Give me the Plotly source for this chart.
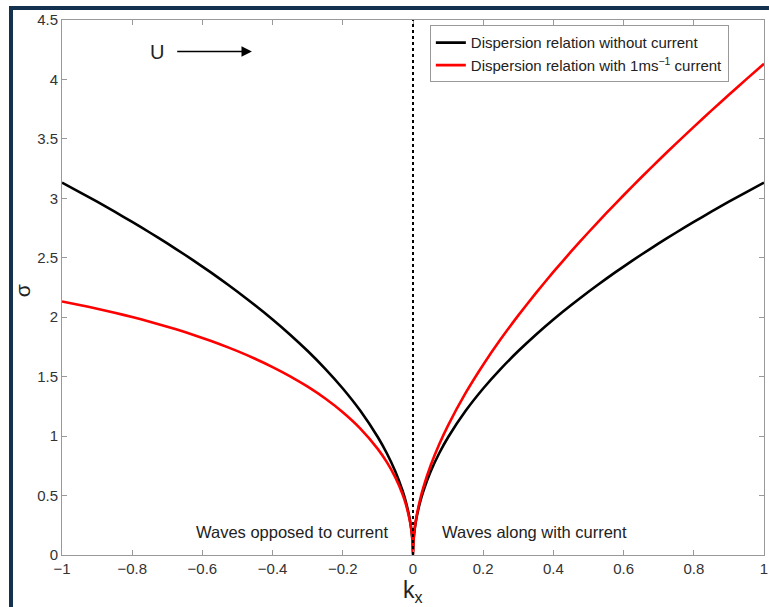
import plotly.graph_objects as go

# wavenumber samples (positive half); full axis built symmetric
k_pos = [0.0, 0.001, 0.0025, 0.005, 0.01, 0.02, 0.03, 0.05, 0.075, 0.1, 0.15, 0.2, 0.25, 0.3,
         0.35, 0.4, 0.45, 0.5, 0.55, 0.6, 0.65, 0.7, 0.75, 0.8, 0.85, 0.9, 0.95, 1.0]
# sigma without current (same on both sides)
sigma0_pos = [0.0, 0.099, 0.1566, 0.2215, 0.3132, 0.4429, 0.5425, 0.7004, 0.8578, 0.9905, 1.2131,
              1.4007, 1.5660, 1.7155, 1.8530, 1.9809, 2.1011, 2.2147, 2.3228, 2.4261, 2.5252,
              2.6205, 2.7125, 2.8014, 2.8877, 2.9714, 3.0528, 3.1321]
# sigma with 1 m/s current, positive kx side
sigmaU_pos = [0.0, 0.100, 0.1591, 0.2265, 0.3232, 0.4629, 0.5725, 0.7504, 0.9328, 1.0905, 1.3631,
              1.6007, 1.8160, 2.0155, 2.2030, 2.3809, 2.5511, 2.7147, 2.8728, 3.0261, 3.1752,
              3.3205, 3.4625, 3.6014, 3.7377, 3.8714, 4.0028, 4.1321]
# sigma with 1 m/s current, negative kx side (listed for |kx| ascending)
sigmaU_neg = [0.0, 0.098, 0.1541, 0.2165, 0.3032, 0.4229, 0.5125, 0.6504, 0.7828, 0.8905, 1.0631,
              1.2007, 1.3160, 1.4155, 1.5030, 1.5809, 1.6511, 1.7147, 1.7728, 1.8261, 1.8752,
              1.9205, 1.9625, 2.0014, 2.0377, 2.0714, 2.1028, 2.1321]

kx = [-k for k in k_pos[::-1]] + k_pos[1:]
sigma0 = sigma0_pos[::-1] + sigma0_pos[1:]
sigmaU = sigmaU_neg[::-1] + sigmaU_pos[1:]

x_ticks = [-1, -0.8, -0.6, -0.4, -0.2, 0, 0.2, 0.4, 0.6, 0.8, 1]
y_ticks = [0, 0.5, 1, 1.5, 2, 2.5, 3, 3.5, 4, 4.5]

FONT = "Liberation Sans, Arial, sans-serif"
TXT = "#222222"

fig = go.Figure()
fig.add_trace(go.Scatter(x=kx, y=sigma0, mode="lines", name="Dispersion relation without current",
                         line=dict(color="black", width=2.6, shape="spline", smoothing=0.5)))
fig.add_trace(go.Scatter(x=kx, y=sigmaU, mode="lines",
                         name="Dispersion relation with 1ms<sup>\u22121</sup> current",
                         line=dict(color="#ff0000", width=2.6, shape="spline", smoothing=0.5)))

axis_common = dict(showline=True, linecolor="#999999", linewidth=1, mirror="allticks",
                   ticks="inside", ticklen=5, tickcolor="#999999", showgrid=False, zeroline=False,
                   automargin=False,
                   tickfont=dict(family=FONT, size=15, color="#333333"))

fig.update_layout(
    width=769, height=607,
    margin=dict(l=62, r=5, t=20, b=52),
    paper_bgcolor="white", plot_bgcolor="white",
    font=dict(family=FONT, color=TXT),
    xaxis=dict(range=[-1, 1], tickvals=x_ticks, **axis_common),
    yaxis=dict(range=[0, 4.5], tickvals=y_ticks, **axis_common),
    legend=dict(x=0.524, y=0.99, xanchor="left", yanchor="top", bgcolor="white",
                bordercolor="#999999", borderwidth=1,
                font=dict(family=FONT, size=15, color=TXT), tracegroupgap=0),
    shapes=[
        dict(type="line", xref="x", yref="y", x0=0, x1=0, y0=0, y1=4.5,
             line=dict(color="black", width=2, dash="dot")),
        dict(type="rect", xref="paper", yref="paper", x0=-0.0755, x1=-0.0698, y0=-0.0972, y1=1.0262,
             fillcolor="#14314f", line=dict(width=0)),
        dict(type="rect", xref="paper", yref="paper", x0=-0.0755, x1=1.0071, y0=1.0187, y1=1.0262,
             fillcolor="#14314f", line=dict(width=0)),
    ],
    annotations=[
        dict(x=0.5, y=-0.068, xref="paper", yref="paper", text="k<sub>x</sub>", showarrow=False,
             xanchor="center", yanchor="middle", font=dict(size=23, family=FONT, color=TXT)),
        dict(x=-0.057, y=0.495, xref="paper", yref="paper", text="σ", showarrow=False, textangle=-90,
             xanchor="center", yanchor="middle", font=dict(size=21, family=FONT, color=TXT)),
        dict(x=-0.459, y=4.235, ax=-0.676, ay=4.235, xref="x", yref="y", axref="x", ayref="y",
             text="", showarrow=True, arrowhead=2, arrowsize=1.3, arrowwidth=1.6, arrowcolor="black"),
        dict(x=-0.729, y=4.235, xref="x", yref="y", text="U", showarrow=False,
             font=dict(size=20, family=FONT, color=TXT)),
        dict(x=-0.066, y=0.19, xref="x", yref="y", text="Waves opposed to current", showarrow=False,
             xanchor="right", font=dict(size=16.5, family=FONT, color=TXT)),
        dict(x=0.077, y=0.19, xref="x", yref="y", text="Waves along with current", showarrow=False,
             xanchor="left", font=dict(size=16.5, family=FONT, color=TXT)),
    ],
)

fig.write_html("out.html", config={"displayModeBar": False},
               post_script="document.body.style.margin='0';")
